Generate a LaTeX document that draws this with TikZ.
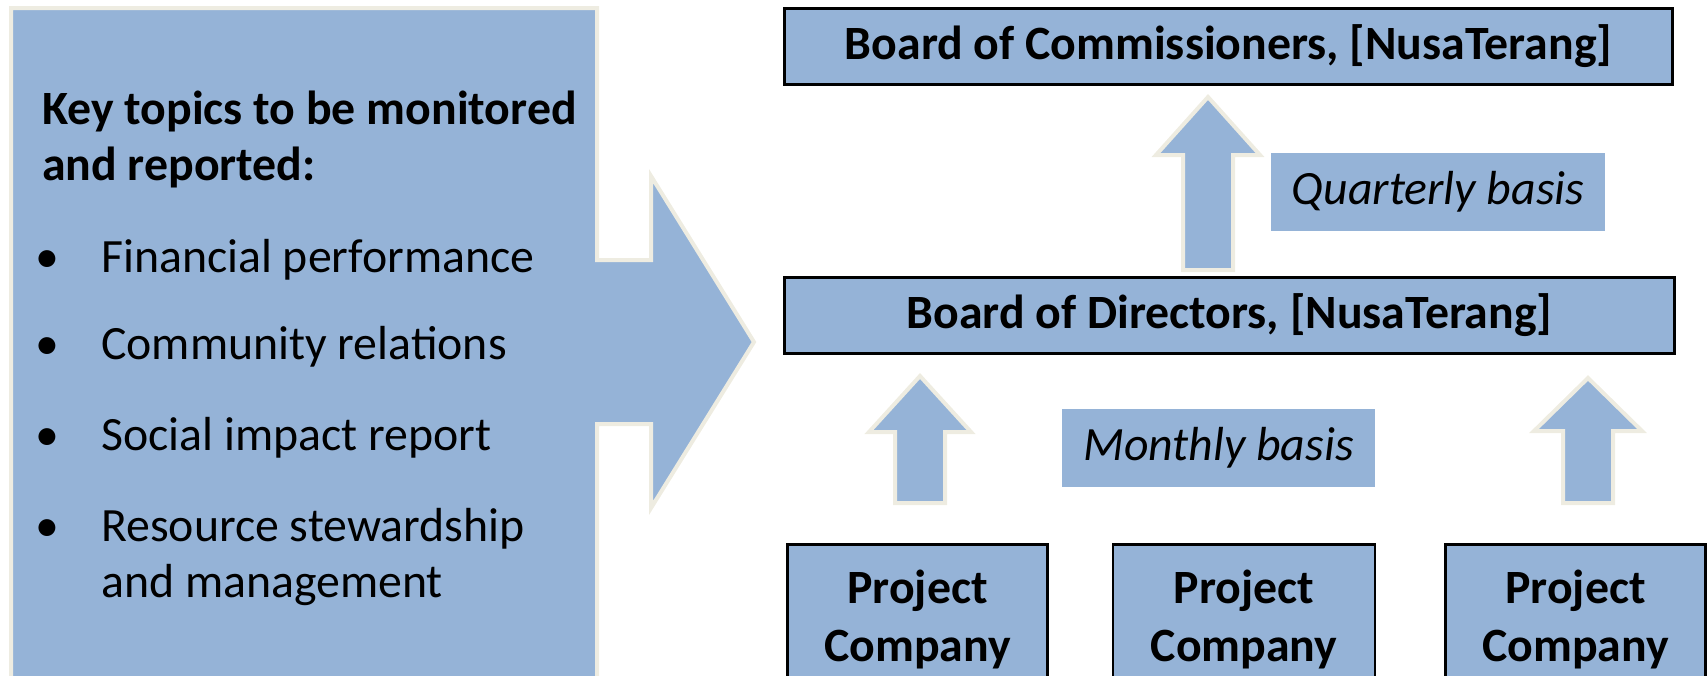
\documentclass[tikz,border=0pt]{standalone}
\usepackage{fontspec}
\setmainfont{Carlito}
\usepackage{tikz}
\usetikzlibrary{positioning}
\definecolor{boxblue}{RGB}{149,179,215}
\definecolor{paleline}{RGB}{238,236,225}

% upward block arrow: centre x, foot y, head y, tip y, shaft half, head half
\newcommand{\blockup}[6]{%
  \draw[blockarrow] (#1-#5,#2) -- (#1-#5,#3) -- (#1-#6,#3) -- (#1,#4)
    -- (#1+#6,#3) -- (#1+#5,#3) -- (#1+#5,#2) -- cycle;}

\begin{document}
\begin{tikzpicture}[x=1pt, y=-1pt,
    board/.style={draw=black, line width=2.5pt, fill=boxblue, inner sep=0pt,
      font=\fontsize{47.8}{58}\selectfont\bfseries},
    basis/.style={fill=boxblue, inner sep=0pt, font=\fontsize{47.8}{58}\selectfont\itshape},
    topic/.style={anchor=base west, inner sep=0pt, font=\fontsize{47.8}{56}\selectfont},
    blockarrow/.style={draw=paleline, fill=boxblue, line width=4pt}]
  \useasboundingbox (0,0) rectangle (1708,675);
  \clip (0,0) rectangle (1708,675);

  % callout with the topics
  \draw[blockarrow] (11,8) -- (597,8) -- (597,260) -- (651,260) -- (651,176) -- (754,342)
    -- (651,508) -- (651,424) -- (597,424) -- (597,700) -- (11,700) -- cycle;
  \node[topic, font=\fontsize{47.8}{56}\selectfont\bfseries] (heading) at (42,124) {Key topics to be monitored};
  \node[topic, font=\fontsize{47.8}{56}\selectfont\bfseries] (headingb) at (42,180) {and reported:};
  \foreach \ypos/\item in {272/Financial performance, 359/Community relations,
      450/Social impact report, 541/Resource stewardship} {
    \node[topic] (dot\ypos) at (35,\ypos) {•};
    \node[topic] (item\ypos) at (101,\ypos) {\item};
  }
  \node[topic] (itemtail) at (101,597) {and management};

  % boards
  \node[board, minimum width=888pt, minimum height=76pt] (commissioners) at (1228.5,46.5) {Board of Commissioners, [NusaTerang]};
  \node[board, minimum width=890pt, minimum height=76pt] (directors) at (1229.5,315.5) {Board of Directors, [NusaTerang]};
  \node[basis, minimum width=334pt, minimum height=78pt] (quarterly) at (1438,192) {Quarterly basis};
  \node[basis, minimum width=313pt, minimum height=78pt] (monthly) at (1218.5,448) {Monthly basis};

  % project companies
  \node[board, align=center, anchor=north, minimum width=260pt, minimum height=150pt] (projecta) at (917.5,543) {Project\\Company};
  \node[board, align=center, minimum width=262pt, minimum height=150pt, right=63pt of projecta] (projectb) {Project\\Company};
  \node[board, align=center, minimum width=260pt, minimum height=150pt, right=68pt of projectb] (projectc) {Project\\Company};

  % reporting arrows
  \blockup{1208}{270}{155}{97}{25}{52}
  \blockup{920}{503}{432}{376}{25}{51}
  \blockup{1588}{503}{431}{378}{25}{54}
\end{tikzpicture}
\end{document}
